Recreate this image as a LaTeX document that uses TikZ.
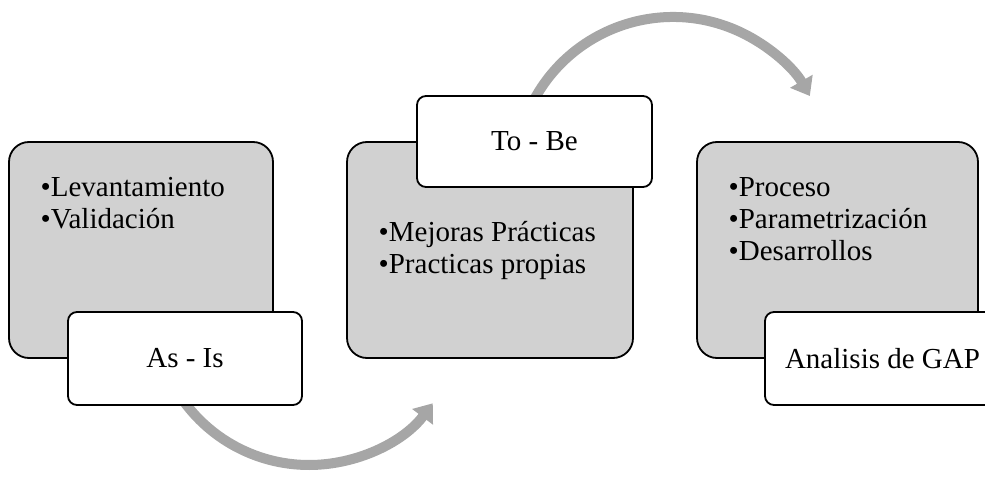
\documentclass[tikz,border=0pt]{standalone}
\usepackage{fontspec}
\setmainfont{Liberation Serif}
\usetikzlibrary{arrows.meta,calc}
\definecolor{boxgray}{RGB}{209,209,209}
\definecolor{flowgray}{RGB}{166,166,166}
\begin{document}
\begin{tikzpicture}[x=1pt,y=1pt,
  panel/.style={draw=black, line width=1.8pt, fill=boxgray, rounded corners=20pt, inner sep=0pt},
  tag/.style={draw=black, line width=1.8pt, fill=white, rounded corners=9pt, inner sep=0pt,
    font=\fontsize{29}{32}\selectfont},
  item/.style={anchor=base west, inner sep=0pt, font=\fontsize{29}{32}\selectfont},
  flow/.style={draw=flowgray, line width=10pt, -{Triangle[width=25pt,length=17pt]}}]
\useasboundingbox (0,0) rectangle (985,477);

% curved arrows linking the stages
\coordinate (c1) at (309,167);
\coordinate (c2) at (673,302);
\coordinate (a1) at ($(c1)+(212:155)$);
\coordinate (a2) at ($(c2)+(155:158)$);
\draw[flow] (a1) arc[start angle=212, end angle=323, radius=155];
\draw[flow] (a2) arc[start angle=155, end angle=30, radius=158];

% grey stage panels
\node[panel, minimum width=264pt, minimum height=216pt] (p1) at (141,227) {};
\node[panel, minimum width=286pt, minimum height=216pt] (p2) at (490,227) {};
\node[panel, minimum width=281pt, minimum height=216pt] (p3) at (837.5,227) {};

% stage contents
\node[item] (l1) at (40.5,280) {•Levantamiento};
\node[item] (l2) at (40.5,248) {•Validación};
\node[item] (m1) at (378.5,235) {•Mejoras Prácticas};
\node[item] (m2) at (378.5,203) {•Practicas propias};
\node[item] (g1) at (728.5,280) {•Proceso};
\node[item] (g2) at (728.5,248) {•Parametrización};
\node[item] (g3) at (728.5,216) {•Desarrollos};

% white title tags
\node[tag, minimum width=234pt, minimum height=93pt] (t1) at (185,118.5) {As - Is};
\node[tag, minimum width=235pt, minimum height=91pt] (t2) at (534.5,335.5) {To - Be};
\node[tag, minimum width=235pt, minimum height=93pt] (t3) at (882.5,118.5) {Analisis de GAP};
\end{tikzpicture}
\end{document}
